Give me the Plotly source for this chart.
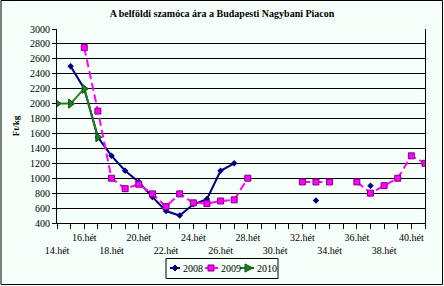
import plotly.graph_objects as go

weeks = list(range(14, 42))

def series(d):
    return [d.get(w) for w in weeks]

s2008 = series({15: 2500, 16: 2200, 17: 1550, 18: 1300, 19: 1100, 20: 950, 21: 750,
                22: 560, 23: 500, 24: 650, 25: 720, 26: 1100, 27: 1200, 33: 700, 37: 900})
s2009 = series({16: 2750, 17: 1900, 18: 1000, 19: 860, 20: 920, 21: 790, 22: 620,
                23: 790, 24: 670, 25: 660, 26: 695, 27: 710, 28: 1000,
                32: 950, 33: 950, 34: 950, 36: 950, 37: 800, 38: 900, 39: 1000,
                40: 1300, 41: 1200})
s2010 = series({14: 2000, 15: 2000, 16: 2200, 17: 1550})

series_names = ["2008", "2009", "2010"]

tick_text = []
for w in weeks:
    if w % 4 == 0:
        tick_text.append(f"{w}.hét")
    elif w % 2 == 0:
        tick_text.append(f"<br>{w}.hét")
    else:
        tick_text.append("")

title_text = "A belföldi szamóca ára a Budapesti Nagybani Piacon"
y_title = "Ft/kg"
y_ticks = list(range(400, 3001, 200))

SERIF = "Liberation Serif, Times New Roman, serif"
BG = "#F6FFF9"
NAVY, MAG, GRN = "#000080", "#FF00FF", "#1F7F1F"

fig = go.Figure()
fig.add_trace(go.Scatter(x=weeks, y=s2008, name=series_names[0], mode="lines+markers",
                         line=dict(color=NAVY, width=2),
                         marker=dict(symbol="diamond", size=5, color=NAVY),
                         connectgaps=False))
fig.add_trace(go.Scatter(x=weeks, y=s2009, name=series_names[1], mode="lines+markers",
                         line=dict(color=MAG, width=2, dash="8px,4px"),
                         marker=dict(symbol="square", size=6, color=MAG,
                                     line=dict(color="#800080", width=1)),
                         connectgaps=False))
fig.add_trace(go.Scatter(x=weeks, y=s2010, name=series_names[2], mode="lines+markers",
                         line=dict(color=GRN, width=2),
                         marker=dict(symbol="triangle-right", size=8, color=GRN,
                                     line=dict(color="#0F4F0F", width=1)),
                         connectgaps=False))

L, R, T, B = 57, 19, 29, 63
W, H = 444, 286
pw, ph = W - L - R, H - T - B

def xp(px):
    return (px - L) / pw

def yp(py):
    return (H - B - py) / ph

fig.update_layout(
    width=W, height=H,
    margin=dict(l=L, r=R, t=T, b=B, autoexpand=False),
    paper_bgcolor=BG, plot_bgcolor=BG,
    font=dict(family=SERIF, size=10, color="black"),
    title=dict(text=f"<b>{title_text}</b>", x=0.5, xanchor="center", y=1 - 13 / H, yanchor="middle",
               font=dict(family=SERIF, size=10, color="black")),
    showlegend=False,
    xaxis=dict(range=[14, 41], tickmode="array", tickvals=weeks, ticktext=tick_text,
               ticks="outside", ticklen=5, tickcolor="black", showgrid=False,
               showline=True, linecolor="black", linewidth=1, zeroline=False,
               tickfont=dict(family=SERIF, size=10), tickangle=0, mirror=False),
    yaxis=dict(range=[400, 3000], tickmode="array", tickvals=y_ticks,
               ticks="outside", ticklen=4, tickcolor="black",
               showgrid=True, gridcolor="black", gridwidth=1,
               showline=True, linecolor="black", linewidth=1, mirror=True, zeroline=False,
               tickfont=dict(family=SERIF, size=10),
               title=dict(text=f"<b>{y_title}</b>", font=dict(family=SERIF, size=9), standoff=8)),
)

# outer chart border
fig.add_shape(type="rect", xref="paper", yref="paper",
              x0=xp(1), x1=xp(W - 1.5), y0=yp(H - 1.5), y1=yp(0.5),
              line=dict(color="black", width=1), fillcolor="rgba(0,0,0,0)", layer="below")

# custom compact legend
ly = 268
fig.add_shape(type="rect", xref="paper", yref="paper",
              x0=xp(166), x1=xp(278), y0=yp(278.5), y1=yp(258.5),
              line=dict(color="black", width=1), fillcolor=BG)

items = [
    (series_names[0], NAVY, "solid", 170, 180, 175, "M0,3L3,0L0,-3L-3,0Z", NAVY, NAVY),
    (series_names[1], MAG, "solid", 205, 218, 211, "M-3,-3L3,-3L3,3L-3,3Z", MAG, "#800080"),
    (series_names[2], GRN, "solid", 240, 254, 249, "M-4,-4L4,0L-4,4Z", GRN, "#0F4F0F"),
]
text_x = [181, 219, 255]
for (name, col, dash, a, b, cx, path, fill, edge), tx in zip(items, text_x):
    fig.add_shape(type="line", xref="paper", yref="paper",
                  x0=xp(a), x1=xp(b), y0=yp(ly), y1=yp(ly),
                  line=dict(color=col, width=2, dash=dash))
    fig.add_shape(type="path", xref="paper", yref="paper",
                  xsizemode="pixel", ysizemode="pixel",
                  xanchor=xp(cx), yanchor=yp(ly), path=path,
                  fillcolor=fill, line=dict(color=edge, width=1))
    fig.add_annotation(x=xp(tx), y=yp(ly), xref="paper", yref="paper",
                       text=name, showarrow=False, xanchor="left", yanchor="middle",
                       font=dict(family=SERIF, size=10, color="black"))

fig.write_html("out.html")
